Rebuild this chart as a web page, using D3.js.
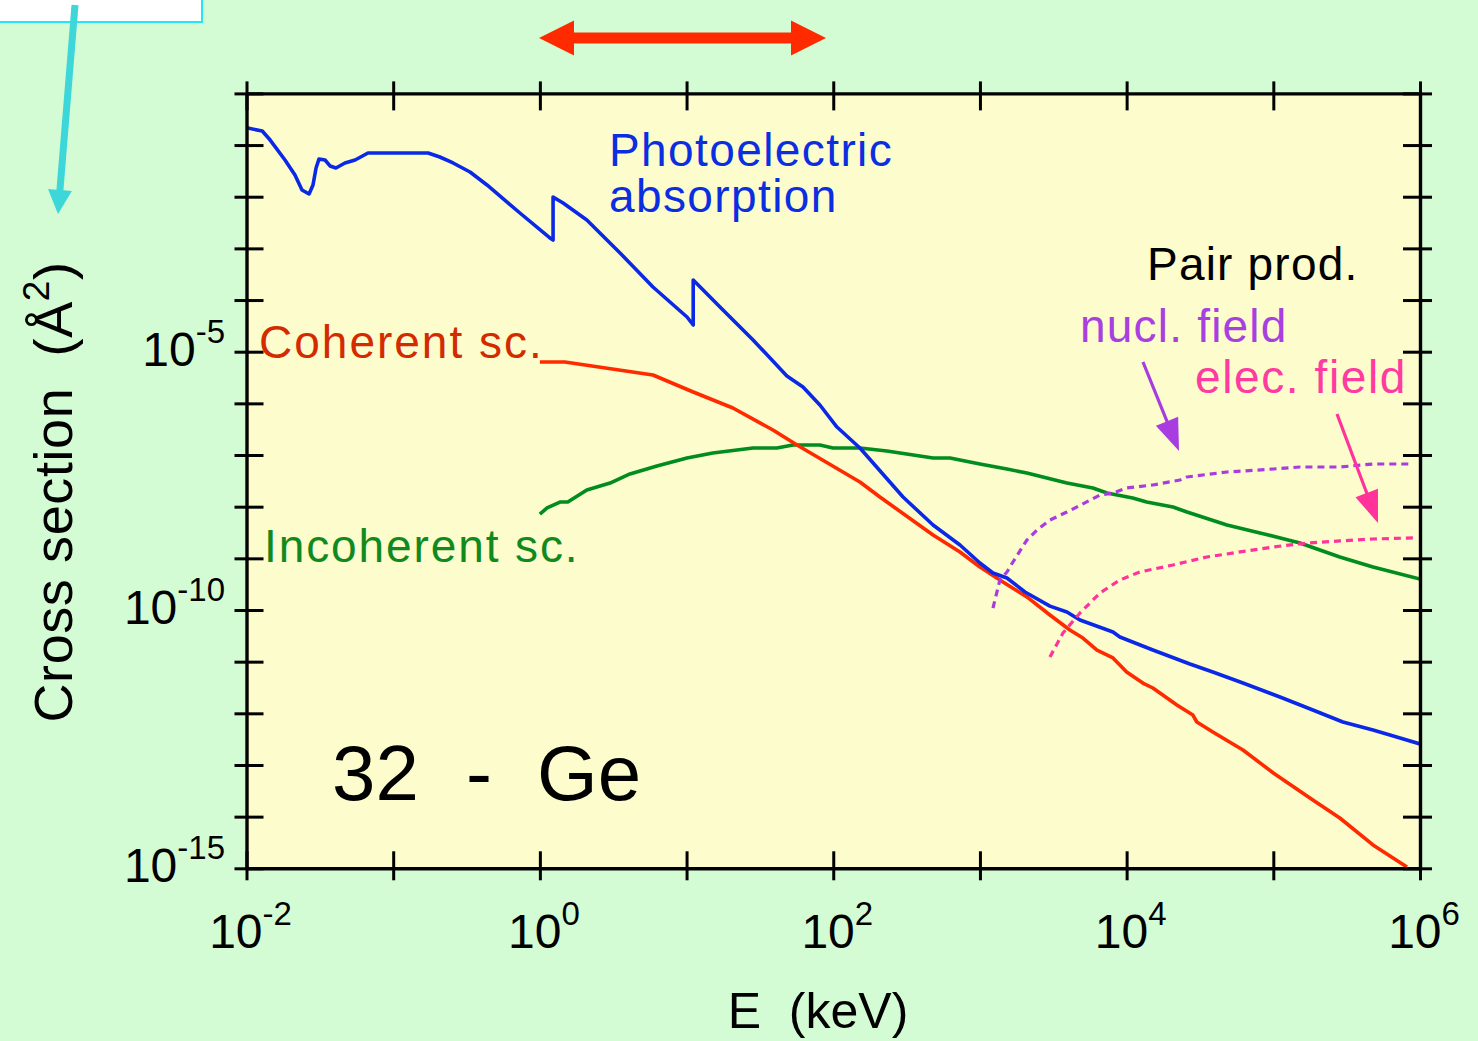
<!DOCTYPE html>
<html>
<head>
<meta charset="utf-8">
<script src="https://cdn.jsdelivr.net/npm/d3@7"></script>
<style>
  html, body { margin: 0; padding: 0; background: #d4fcd4; }
  svg { display: block; }
  text { font-family: "Liberation Sans", Arial, Helvetica, sans-serif; }
</style>
</head>
<body>
<svg id="chart" width="1478" height="1041"></svg>
<script>
// Photon interaction cross sections of germanium (Z = 32).
// Energy in keV, cross section in square angstroms.

const photoelectric = [
  [0.0102, 0.214], [0.0128, 0.187], [0.0145, 0.125], [0.0183, 0.0514], [0.0214, 0.0263],
  [0.0239, 0.0135], [0.0267, 0.0113], [0.0284, 0.0169], [0.0298, 0.0360], [0.0312, 0.0537],
  [0.0343, 0.0514], [0.0371, 0.0394], [0.0407, 0.0360], [0.0469, 0.0450], [0.0550, 0.0514],
  [0.0673, 0.0702], [0.173, 0.0702], [0.208, 0.0587], [0.256, 0.0450], [0.334, 0.0301],
  [0.436, 0.0169], [0.731, 0.00484], [1.17, 0.00159], [1.23, 0.00145], [1.23, 0.00989],
  [1.44, 0.00755], [2.09, 0.00354], [3.52, 8.15e-4], [5.90, 1.79e-4], [10.07, 4.70e-5],
  [11.1, 3.29e-5], [11.1, 2.44e-4], [16.9, 7.33e-5], [28.4, 1.69e-5], [48.3, 3.39e-6],
  [62.2, 2.07e-6], [81.1, 9.29e-7], [106, 3.48e-7], [152, 1.37e-7], [299, 1.54e-8],
  [479, 4.42e-9], [731, 1.81e-9], [1000, 8.13e-10], [1227, 5.20e-10], [1528, 4.17e-10],
  [2028, 2.23e-10], [3000, 1.19e-10], [3917, 9.14e-11], [4808, 6.40e-11], [8072, 3.75e-11],
  [8995, 3.00e-11], [1.51e4, 1.68e-11], [2.70e4, 9.02e-12], [3.87e4, 6.31e-12], [6.21e4, 3.86e-12],
  [1.11e5, 2.07e-12], [1.86e5, 1.16e-12], [2.98e5, 6.79e-13], [4.78e5, 4.75e-13], [6.24e5, 3.80e-13],
  [1e6, 2.55e-13]
];

const coherent = [
  [1.0, 6.32e-6], [1.48, 6.32e-6], [5.90, 3.54e-6], [11.1, 1.66e-6], [20.7, 8.13e-7],
  [38.8, 3.05e-7], [56.6, 1.56e-7], [152, 3.01e-8], [208, 1.54e-8], [479, 2.83e-9],
  [731, 1.33e-9], [1000, 6.79e-10], [1435, 3.48e-10], [2089, 1.79e-10], [3000, 8.0e-11],
  [4102, 4.10e-11], [5035, 2.87e-11], [6281, 1.68e-11], [8072, 1.18e-11], [1.0e4, 6.31e-12],
  [1.29e4, 3.86e-12], [1.51e4, 3.09e-12], [2.20e4, 1.45e-12], [2.83e4, 9.27e-13], [3.01e4, 6.79e-13],
  [3.87e4, 4.35e-13], [6.21e4, 1.95e-13], [1.0e5, 7.0e-14], [1.86e5, 2.10e-14], [2.84e5, 9.42e-15],
  [4.78e5, 2.83e-15], [8.15e5, 1.06e-15]
];

const incoherent = [
  [1.0, 7.21e-9], [1.12, 9.44e-9], [1.37, 1.23e-8], [1.55, 1.23e-8], [2.09, 2.10e-8],
  [3.01, 2.87e-8], [4.11, 4.30e-8], [6.28, 6.14e-8], [10.07, 8.75e-8], [15.1, 1.09e-7],
  [28.4, 1.37e-7], [41.3, 1.37e-7], [53.1, 1.56e-7], [81.1, 1.56e-7], [99.5, 1.37e-7],
  [152, 1.37e-7], [232, 1.20e-7], [479, 8.75e-8], [625, 8.75e-8], [1000, 6.70e-8],
  [1528, 5.36e-8], [2089, 4.49e-8], [3917, 2.87e-8], [5888, 2.30e-8], [7345, 1.84e-8],
  [1.10e4, 1.47e-8], [1.37e4, 1.23e-8], [2.07e4, 9.86e-9], [2.58e4, 7.89e-9], [4.83e4, 4.42e-9],
  [8.11e4, 3.10e-9], [1.52e5, 1.98e-9], [2.84e5, 1.06e-9], [4.78e5, 6.79e-10], [1e6, 3.98e-10]
];

const pairNuclear = [
  [1227, 1.09e-10], [1368, 3.81e-10], [1528, 5.45e-10], [1679, 8.49e-10], [2089, 2.26e-9],
  [2449, 3.54e-9], [3000, 5.52e-9], [3917, 7.89e-9], [5035, 1.13e-8], [6577, 1.68e-8],
  [8072, 1.84e-8], [1.0e4, 2.30e-8], [1.51e4, 2.63e-8], [2.31e4, 3.29e-8], [2.58e4, 3.76e-8],
  [4.83e4, 4.69e-8], [1.0e5, 5.36e-8], [1.52e5, 5.86e-8], [2.84e5, 5.86e-8], [4.78e5, 6.70e-8],
  [8.95e5, 6.70e-8]
];

const pairElectron = [
  [3000, 1.23e-11], [3681, 3.59e-11], [4808, 8.75e-11], [6577, 2.13e-10], [8995, 3.81e-10],
  [1.23e4, 5.45e-10], [2.07e4, 7.43e-10], [3.52e4, 1.06e-9], [5.92e4, 1.33e-9], [1.0e5, 1.66e-9],
  [1.69e5, 1.98e-9], [2.84e5, 2.17e-9], [4.78e5, 2.37e-9], [8.95e5, 2.48e-9]
];

// Axis ticks: one per decade, labels carry a base and a superscript exponent
const energyTicks = [1e-2, 1e-1, 1, 1e1, 1e2, 1e3, 1e4, 1e5, 1e6];
const energyLabels = [[1e-2, "-2"], [1, "0"], [1e2, "2"], [1e4, "4"], [1e6, "6"]];
const sigmaTicks = [1e-15, 1e-14, 1e-13, 1e-12, 1e-11, 1e-10, 1e-9, 1e-8, 1e-7, 1e-6,
                    1e-5, 1e-4, 1e-3, 1e-2, 1e-1, 1];
const sigmaLabels = [[1e-15, "-15"], [1e-10, "-10"], [1e-5, "-5"]];

const svg = d3.select("#chart");
const plot = { left: 246.5, right: 1420, top: 93.4, bottom: 868.3 };

const x = d3.scaleLog().domain([1e-2, 1e6]).range([plot.left, plot.right]);
const y = d3.scaleLog().domain([1e-15, 1]).range([plot.bottom, plot.top]);

// page and plot backgrounds
svg.append("rect").attr("width", 1478).attr("height", 1041).attr("fill", "#d4fcd4");
svg.append("rect")
  .attr("x", plot.left).attr("y", plot.top)
  .attr("width", plot.right - plot.left).attr("height", plot.bottom - plot.top)
  .attr("fill", "#fcfccc");

// white box with cyan frame at the top-left corner and a cyan pointer
svg.append("rect").attr("x", -4).attr("y", -4).attr("width", 206).attr("height", 26)
  .attr("fill", "#ffffff").attr("stroke", "#22e6f2").attr("stroke-width", 2);

function arrowPolygon(x0, y0, x1, y1, shaftHalf, headLen, headHalf) {
  const dx = x1 - x0, dy = y1 - y0, len = Math.hypot(dx, dy);
  const ux = dx / len, uy = dy / len, nx = -uy, ny = ux;
  const bx = x1 - ux * headLen, by = y1 - uy * headLen;
  return [
    [x0 + nx * shaftHalf, y0 + ny * shaftHalf],
    [bx + nx * shaftHalf, by + ny * shaftHalf],
    [bx + nx * headHalf, by + ny * headHalf],
    [x1, y1],
    [bx - nx * headHalf, by - ny * headHalf],
    [bx - nx * shaftHalf, by - ny * shaftHalf],
    [x0 - nx * shaftHalf, y0 - ny * shaftHalf]
  ];
}
function drawArrow(pts, color) {
  svg.append("path").attr("d", "M" + pts.map(p => p.join(",")).join("L") + "Z").attr("fill", color);
}
drawArrow(arrowPolygon(75, 5, 58, 214, 3.5, 24, 12), "#3dd6d9");

// red double-headed arrow above the plot
(function () {
  const x0 = 539, x1 = 826, cy = 38, head = 35, hh = 17.5, sh = 5.5;
  const pts = [[x0, cy], [x0 + head, cy - hh], [x0 + head, cy - sh], [x1 - head, cy - sh],
               [x1 - head, cy - hh], [x1, cy], [x1 - head, cy + hh], [x1 - head, cy + sh],
               [x0 + head, cy + sh], [x0 + head, cy + hh]];
  drawArrow(pts, "#ff2a00");
})();

// curves
svg.append("clipPath").attr("id", "plotClip").append("rect")
  .attr("x", plot.left).attr("y", plot.top)
  .attr("width", plot.right - plot.left).attr("height", plot.bottom - plot.top);

const line = d3.line().x(d => x(d[0])).y(d => y(d[1]));
const curves = svg.append("g").attr("clip-path", "url(#plotClip)")
  .attr("fill", "none").attr("stroke-width", 3.6)
  .attr("stroke-linejoin", "round").attr("stroke-linecap", "butt");

curves.append("path").datum(incoherent).attr("d", line).attr("stroke", "#008c1e");
curves.append("path").datum(coherent).attr("d", line).attr("stroke", "#ff2a00");
curves.append("path").datum(photoelectric).attr("d", line).attr("stroke", "#0a28e6");
curves.append("path").datum(pairNuclear).attr("d", line).attr("stroke", "#a83ce0")
  .attr("stroke-width", 3.2).attr("stroke-dasharray", "7,5");
curves.append("path").datum(pairElectron).attr("d", line).attr("stroke", "#ff3399")
  .attr("stroke-width", 3.2).attr("stroke-dasharray", "7,5");

// frame with ticks crossing the frame lines
function styleAxis(g) {
  g.select(".domain").attr("stroke", "#000").attr("stroke-width", 3.4);
  g.selectAll(".tick line").attr("stroke", "#000").attr("stroke-width", 3);
  g.selectAll(".tick text").remove();
}
const inner = 17, outer = 12;

svg.append("g").attr("transform", `translate(0,${plot.bottom})`)
  .call(d3.axisBottom(x).tickValues(energyTicks).tickSizeOuter(0).tickSizeInner(outer).tickFormat(""))
  .call(styleAxis).call(g => g.selectAll(".tick line").attr("y1", -inner));
svg.append("g").attr("transform", `translate(0,${plot.top})`)
  .call(d3.axisTop(x).tickValues(energyTicks).tickSizeOuter(0).tickSizeInner(outer).tickFormat(""))
  .call(styleAxis).call(g => g.selectAll(".tick line").attr("y1", inner));
svg.append("g").attr("transform", `translate(${plot.left},0)`)
  .call(d3.axisLeft(y).tickValues(sigmaTicks).tickSizeOuter(0).tickSizeInner(outer).tickFormat(""))
  .call(styleAxis).call(g => g.selectAll(".tick line").attr("x1", inner));
svg.append("g").attr("transform", `translate(${plot.right},0)`)
  .call(d3.axisRight(y).tickValues(sigmaTicks).tickSizeOuter(0).tickSizeInner(outer).tickFormat(""))
  .call(styleAxis).call(g => g.selectAll(".tick line").attr("x1", -inner));

// power-of-ten tick labels
function powerLabel(sel, exp) {
  sel.append("tspan").text("10");
  sel.append("tspan").attr("dy", -23).attr("font-size", 33).text(exp);
}
energyLabels.forEach(([v, exp]) => {
  svg.append("text").attr("x", x(v) + 4).attr("y", 948)
    .attr("text-anchor", "middle").attr("font-size", 48).attr("fill", "#000")
    .call(powerLabel, exp);
});
sigmaLabels.forEach(([v, exp]) => {
  svg.append("text").attr("x", 225).attr("y", y(v) + 14)
    .attr("text-anchor", "end").attr("font-size", 48).attr("fill", "#000")
    .call(powerLabel, exp);
});

// axis titles
svg.append("text").attr("x", 818).attr("y", 1028).attr("text-anchor", "middle")
  .attr("font-size", 50).attr("fill", "#000").style("white-space", "pre")
  .text("E  (keV)");

const yTitle = svg.append("text")
  .attr("transform", "translate(72,492) rotate(-90)")
  .attr("text-anchor", "middle").attr("font-size", 54).attr("fill", "#000")
  .attr("letter-spacing", 0.6).style("white-space", "pre");
yTitle.append("tspan").text("Cross section  (Å");
yTitle.append("tspan").attr("dy", -23).attr("font-size", 37).text("2");
yTitle.append("tspan").attr("dy", 23).text(")");

// curve labels
function label(lines, x0, y0, color, spacing) {
  const t = svg.append("text").attr("x", x0).attr("y", y0).attr("fill", color)
    .attr("font-size", 46).attr("letter-spacing", spacing == null ? 1.2 : spacing);
  lines.forEach((s, i) => t.append("tspan").attr("x", x0).attr("dy", i ? 46 : 0).text(s));
}
label(["Photoelectric", "absorption"], 609, 166, "#0a2ee0", 1.4);
label(["Coherent sc."], 259, 358, "#d42a00", 2.0);
label(["Incoherent sc."], 264, 562, "#108a1e", 1.9);
label(["Pair prod."], 1147, 280, "#000000");
label(["nucl. field"], 1080, 342, "#a840e0");
label(["elec. field"], 1195, 393, "#ff3aa0", 1.6);

// element tag
const tag = svg.append("text").attr("y", 800).attr("font-size", 78).attr("fill", "#000");
tag.append("tspan").attr("x", 332).text("32");
tag.append("tspan").attr("x", 466).text("-");
tag.append("tspan").attr("x", 537).text("Ge");

// pointers to the pair-production curves
function thinArrow(x0, y0, x1, y1, color) {
  drawArrow(arrowPolygon(x0, y0, x1, y1, 1.6, 32, 12), color);
}
thinArrow(1143, 362, 1179, 451, "#a83ce0");
thinArrow(1337, 414, 1378, 523, "#ff3399");
</script>
</body>
</html>
